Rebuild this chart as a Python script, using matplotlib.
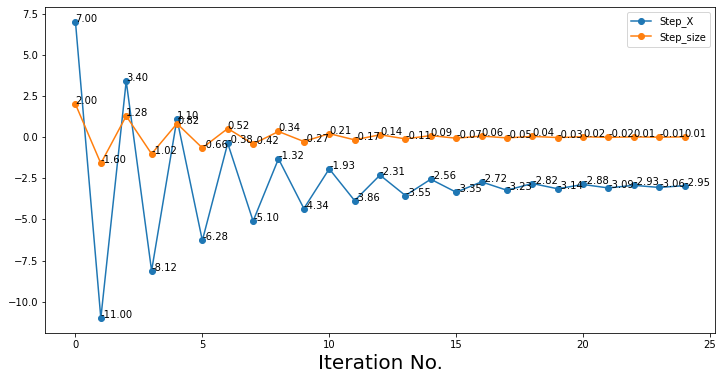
import matplotlib
matplotlib.use("Agg")
from matplotlib import pyplot as plt
import numpy as np

iterations = list(range(25))
step_x = [7.00, -11.00, 3.40, -8.12, 1.10, -6.28, -0.38, -5.10, -1.32, -4.34,
          -1.93, -3.86, -2.31, -3.55, -2.56, -3.35, -2.72, -3.23, -2.82, -3.14,
          -2.88, -3.09, -2.93, -3.06, -2.95]
step_size = [2.00, -1.60, 1.28, -1.02, 0.82, -0.66, 0.52, -0.42, 0.34, -0.27,
             0.21, -0.17, 0.14, -0.11, 0.09, -0.07, 0.06, -0.05, 0.04, -0.03,
             0.02, -0.02, 0.01, -0.01, 0.01]

fig = plt.figure(figsize=(722/72, 380/72), dpi=72)
fig.subplots_adjust(left=45/722, right=715/722, top=1-7/380, bottom=1-333/380)

plt.plot(iterations, step_x, marker='o', label='Step_X')
plt.plot(iterations, step_size, marker='o', label='Step_size')

for i in range(len(iterations)):
    plt.text(iterations[i], step_x[i], '%.2f' % step_x[i])
    plt.text(iterations[i], step_size[i], '%.2f' % step_size[i])

plt.xlabel('Iteration No.', fontsize=20)
plt.legend(loc='upper right')
plt.savefig('out.png', dpi=72)
